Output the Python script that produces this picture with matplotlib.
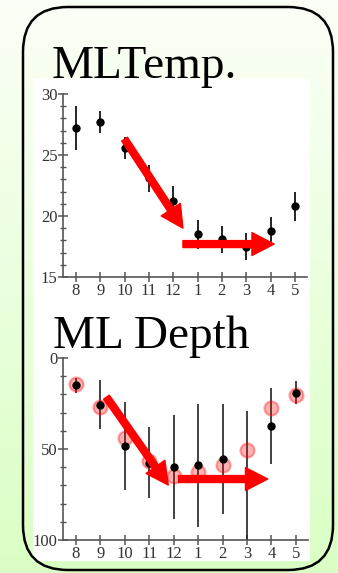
import numpy as np
import matplotlib
matplotlib.use('Agg')
import matplotlib.pyplot as plt
from matplotlib.patches import FancyBboxPatch, Rectangle, FancyArrowPatch
from matplotlib.transforms import IdentityTransform

# months along the x axis
months = ['8', '9', '10', '11', '12', '1', '2', '3', '4', '5']

# mixed layer temperature
temp = [27.2, 27.7, 25.6, 23.1, 21.2, 18.5, 18.1, 17.5, 18.8, 20.8]
temp_err = [1.8, 0.9, 0.9, 1.1, 1.3, 1.2, 1.1, 1.1, 1.1, 1.2]

# mixed layer depth (observed, black) and model (red circles)
depth = [15.0, 25.6, 48.4, 57.5, 59.8, 58.9, 55.6, 66.0, 37.3, 19.0]
depth_err = [4.0, 13.3, 24.3, 19.6, 28.5, 33.9, 30.2, 37.0, 20.9, 6.5]
depth_model = [14.4, 26.9, 44.2, 56.7, 64.9, 62.7, 59.0, 50.3, 27.4, 20.1]

# arrow start / tip in data units (x index, value)
temp_arrows = [((2.0, 26.3), (4.4, 19.0)), ((4.4, 17.7), (8.15, 17.7))]
depth_arrows = [((1.25, 21.5), (3.78, 69.8)), ((4.2, 66.5), (7.85, 66.5))]

W, H = 338, 573
fig = plt.figure(figsize=(W / 100, H / 100), dpi=100)

# background gradient
bg = fig.add_axes([0, 0, 1, 1], zorder=-10)
grad = np.linspace(0, 1, 256)[:, None]
top_c = np.array([251, 255, 247]) / 255
bot_c = np.array([218, 255, 196]) / 255
img = top_c[None, None, :] * (1 - grad[:, :, None]) + bot_c[None, None, :] * grad[:, :, None]
bg.imshow(img, aspect='auto', extent=[0, 1, 0, 1])
bg.set_xlim(0, 1)
bg.set_ylim(0, 1)
bg.axis('off')

# white panel behind the charts
fig.add_artist(Rectangle((33, H - 561), 277, 482, transform=IdentityTransform(),
                         facecolor='white', edgecolor='none', zorder=-5))
# rounded frame
fig.add_artist(FancyBboxPatch((23, 3), 310, 563, boxstyle='round,pad=0,rounding_size=45',
                              transform=IdentityTransform(), facecolor='none',
                              edgecolor='black', linewidth=1.8, zorder=5))

serif = ['Liberation Serif', 'DejaVu Serif']
x = np.arange(len(months))


def style_axes(ax):
    ax.patch.set_alpha(0)
    for s in ['top', 'right']:
        ax.spines[s].set_visible(False)
    for s in ['left', 'bottom']:
        ax.spines[s].set_color('#555555')
        ax.spines[s].set_linewidth(1.2)
    ax.set_xlim(-0.53, 9.5)
    ax.set_xticks(x)
    ax.set_xticklabels(months)
    ax.tick_params(which='major', direction='inout', length=7, width=1.1, color='#555555',
                   labelsize=12, labelcolor='#333333', pad=0.5)
    ax.tick_params(which='minor', direction='inout', length=4, width=1.0, color='#555555')
    for lab in ax.get_xticklabels() + ax.get_yticklabels():
        lab.set_family(serif)


def add_arrows(ax, arrows):
    for start, tip in arrows:
        ax.add_patch(FancyArrowPatch(start, tip,
                                     arrowstyle='simple,tail_width=0.5,head_width=1.65,head_length=1.6',
                                     mutation_scale=10, color='red', shrinkA=0, shrinkB=0,
                                     zorder=10))


# top: temperature
ax1 = fig.add_axes([63 / W, 1 - 277 / H, 244 / W, 183 / H])
ax1.errorbar(x, temp, yerr=temp_err, fmt='o', color='black', ms=5, elinewidth=1.2, capsize=0)
ax1.set_ylim(15, 30)
ax1.set_yticks([15, 20, 25, 30])
ax1.set_yticks(np.arange(15, 31, 1), minor=True)
style_axes(ax1)
add_arrows(ax1, temp_arrows)

# bottom: depth
ax2 = fig.add_axes([63 / W, 1 - 540 / H, 245 / W, 182 / H])
ax2.errorbar(x, depth, yerr=depth_err, fmt='o', color='black', ecolor='#222222', ms=5,
             elinewidth=1.2, capsize=0)
ax2.plot(x, depth_model, 'o', ms=10, mfc=(1, 0, 0, 0.3), mec=(1, 0, 0, 0.35), mew=1.6)
ax2.set_ylim(100, 0)
ax2.set_yticks([0, 50, 100])
ax2.set_yticks(np.arange(0, 101, 10), minor=True)
style_axes(ax2)
add_arrows(ax2, depth_arrows)

fig.text(52 / W, 1 - 78 / H, 'MLTemp.', family=serif, fontsize=34, va='baseline', ha='left')
fig.text(53 / W, 1 - 348 / H, 'ML Depth', family=serif, fontsize=34, va='baseline', ha='left')

fig.savefig('out.png', dpi=100)
